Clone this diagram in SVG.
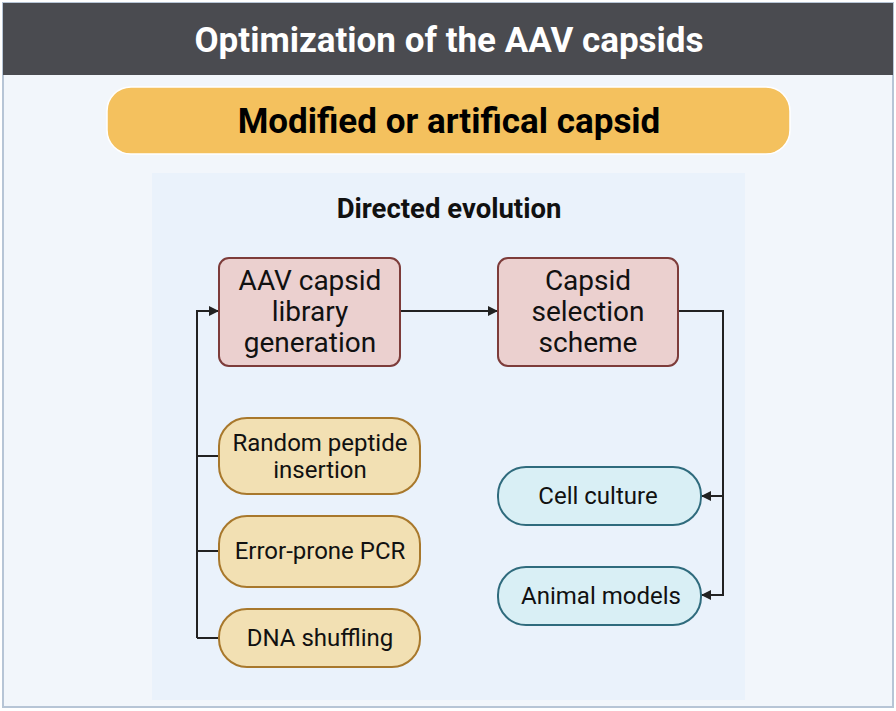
<svg xmlns="http://www.w3.org/2000/svg" width="896" height="711" viewBox="0 0 896 711">
<defs>
<marker id="ah" markerWidth="10" markerHeight="10" refX="9" refY="5" orient="auto" markerUnits="userSpaceOnUse">
<path d="M0,0 L10,5 L0,10 z" fill="#222"/>
</marker>
<style>
text{font-family:Roboto,"Liberation Sans",sans-serif;text-anchor:middle;}
.t{font-size:24px;fill:#111;}
.b{font-size:28px;fill:#111;}
.red{fill:#ebd0cf;stroke:#7d3c3a;stroke-width:2;}
.yel{fill:#f2e0b3;stroke:#a8782c;stroke-width:2;}
.blu{fill:#d9eff5;stroke:#2f6b7d;stroke-width:2;}
.c{fill:none;stroke:#222;stroke-width:2;}
</style>
</defs>
<rect x="3" y="3" width="890" height="704" fill="#f2f6fb" stroke="#b7c5d6" stroke-width="2"/>
<g id="header">
<rect x="3" y="3" width="890" height="72" fill="#4a4b50"/>
<text x="449" y="52" font-size="35" font-weight="bold" fill="#fff">Optimization of the AAV capsids</text>
</g>
<g id="modified">
<rect x="107" y="87" width="683" height="67" rx="24" fill="#f4c15e" stroke="#fff" stroke-width="1.5"/>
<text x="449" y="133" font-size="35" font-weight="bold" fill="#000">Modified or artifical capsid</text>
</g>
<g id="panel">
<rect x="152" y="173" width="593" height="527" fill="#eaf2fb"/>
<text x="449" y="218" font-size="27.5" font-weight="bold" fill="#111">Directed evolution</text>
</g>
<g id="connectors">
<line class="c" x1="400" y1="311" x2="497" y2="311" marker-end="url(#ah)"/>
<polyline class="c" points="197,638 197,311 218,311" marker-end="url(#ah)"/>
<line class="c" x1="197" y1="456" x2="219" y2="456"/>
<line class="c" x1="197" y1="551" x2="219" y2="551"/>
<line class="c" x1="197" y1="638" x2="219" y2="638"/>
<polyline class="c" points="678,311 723,311 723,595 702,595" marker-end="url(#ah)"/>
<line class="c" x1="723" y1="496" x2="702" y2="496" marker-end="url(#ah)"/>
</g>
<g id="library">
<rect class="red" x="219" y="258" width="181" height="108" rx="10"/>
<text class="b" x="310" y="290">AAV capsid</text>
<text class="b" x="310" y="321">library</text>
<text class="b" x="310" y="352">generation</text>
</g>
<g id="selection">
<rect class="red" x="498" y="258" width="180" height="108" rx="10"/>
<text class="b" x="588" y="290">Capsid</text>
<text class="b" x="588" y="321">selection</text>
<text class="b" x="588" y="352">scheme</text>
</g>
<g id="random">
<rect class="yel" x="219" y="418" width="201" height="76" rx="28"/>
<text class="t" x="320" y="451">Random peptide</text>
<text class="t" x="320" y="478">insertion</text>
</g>
<g id="pcr">
<rect class="yel" x="219" y="516" width="201" height="71" rx="28"/>
<text class="t" x="320" y="559">Error-prone PCR</text>
</g>
<g id="dna">
<rect class="yel" x="219" y="609" width="201" height="58" rx="28"/>
<text class="t" x="320" y="646">DNA shuffling</text>
</g>
<g id="cell">
<rect class="blu" x="498" y="467" width="203" height="58" rx="28"/>
<text class="t" x="598" y="504">Cell culture</text>
</g>
<g id="animal">
<rect class="blu" x="498" y="567" width="203" height="58" rx="28"/>
<text class="t" x="601" y="604">Animal models</text>
</g>
</svg>
